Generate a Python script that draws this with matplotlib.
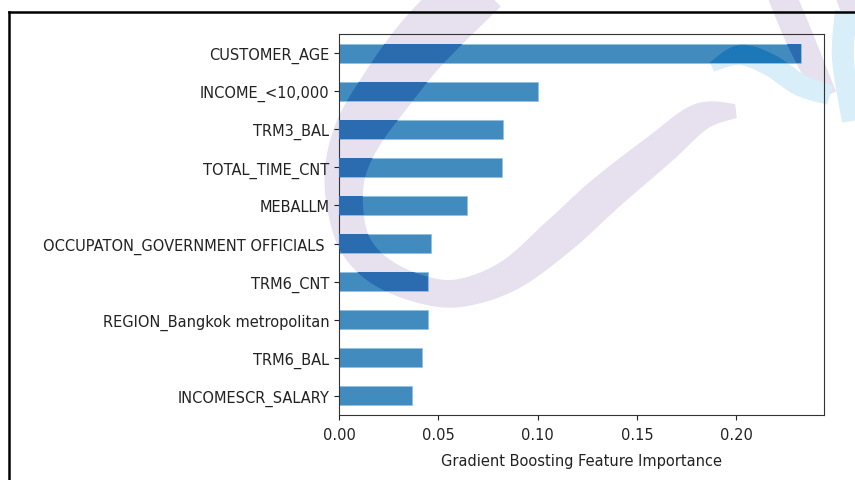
import numpy as np
import matplotlib.pyplot as plt
from matplotlib.lines import Line2D
from matplotlib.patches import Polygon

# importance des variables (gradient boosting), de la plus faible a la plus forte
features = [
    "INCOMESCR_SALARY",
    "TRM6_BAL",
    "REGION_Bangkok metropolitan",
    "TRM6_CNT",
    "OCCUPATON_GOVERNMENT OFFICIALS ",
    "MEBALLM",
    "TOTAL_TIME_CNT",
    "TRM3_BAL",
    "INCOME_<10,000",
    "CUSTOMER_AGE",
]
importances = [0.0368, 0.0418, 0.0448, 0.0449, 0.0463, 0.0645, 0.0820, 0.0826, 0.1000, 0.2325]
xticks = [0.00, 0.05, 0.10, 0.15, 0.20]

W, H = 855, 481
fig = plt.figure(figsize=(W / 100, H / 100), dpi=100)
fig.patch.set_facecolor("white")


def px(x, y):
    # coordonnees pixel (origine en haut a gauche) -> fraction de figure
    return x / W, 1 - y / H


def lisse(valeurs, n=12):
    # courbe de Catmull-Rom passant par les points (x, y, epaisseur)
    p = np.array(valeurs, dtype=float)
    p = np.vstack([p[0], p, p[-1]])
    out = []
    for i in range(1, len(p) - 2):
        p0, p1, p2, p3 = p[i - 1], p[i], p[i + 1], p[i + 2]
        for t in np.linspace(0, 1, n, endpoint=False):
            out.append(0.5 * (2 * p1 + (p2 - p0) * t + (2 * p0 - 5 * p1 + 4 * p2 - p3) * t ** 2
                              + (3 * p1 - p0 - 3 * p2 + p3) * t ** 3))
    out.append(p[-2])
    return np.array(out)


def ruban(valeurs):
    # contour d'un trait d'epaisseur variable, en fraction de figure
    c = lisse(valeurs)
    d = np.gradient(c[:, :2], axis=0)
    d /= np.hypot(d[:, 0], d[:, 1])[:, None]
    nrm = np.column_stack([-d[:, 1], d[:, 0]]) * (c[:, 2:3] / 2)
    bord = np.vstack([c[:, :2] + nrm, (c[:, :2] - nrm)[::-1]])
    return np.column_stack([bord[:, 0] / W, 1 - bord[:, 1] / H])


# filigrane (logo) : rubans en (x, y, epaisseur) pixels
lavande = "#e7e1ef"
bleu_clair = "#d8eef8"
filigrane = [
    ([(480, -14, 60), (440, 25, 60), (413, 55, 58), (385, 93, 55), (360, 131, 50),
      (346, 169, 42), (345, 207, 36), (355, 245, 32), (380, 272, 30), (420, 290, 28),
      (460, 294, 28), (510, 276, 32), (560, 236, 38), (605, 195, 38), (660, 150, 34),
      (700, 118, 28), (736, 112, 14)], lavande, "#2b6cb0"),
    ([(780, -8, 28), (800, 40, 28), (826, 97, 22)], lavande, "#2b6cb0"),
    ([(845, -8, 22), (860, 35, 22)], lavande, "#2b6cb0"),
    ([(712, 68, 10), (740, 56, 20), (770, 66, 22), (800, 86, 22), (830, 96, 20)],
     bleu_clair, "#1c78b8"),
    ([(846, 12, 22), (843, 60, 22), (852, 122, 20)], bleu_clair, "#1c78b8"),
]
for pts, couleur, _ in filigrane:
    fig.add_artist(Polygon(ruban(pts), closed=True, transform=fig.transFigure,
                           facecolor=couleur, edgecolor="none", zorder=-2))

# cadre noir autour de la figure
fig.add_artist(Line2D([8.5 / W, 8.5 / W], [0, 1 - 13 / H], transform=fig.transFigure,
                      color="black", lw=1.8))
fig.add_artist(Line2D([8.5 / W, 1], [1 - 13 / H, 1 - 13 / H], transform=fig.transFigure,
                      color="black", lw=1.8))

x0, y0 = px(339, 416)
x1, y1 = px(824, 35)
ax = fig.add_axes([x0, y0, x1 - x0, y1 - y0])
ax.set_facecolor("none")

pos = list(range(len(features)))
barres = ax.barh(pos, importances, height=0.5, color="#1f77b4", alpha=0.85,
                 edgecolor="#8fc0e0", linewidth=0.6)
ax.set_ylim(-0.5, len(features) - 0.5)

# le filigrane assombrit les barres la ou il passe
for pts, _, fonce in filigrane:
    for b in barres:
        p = Polygon(ruban(pts), closed=True, transform=fig.transFigure,
                    facecolor=fonce, edgecolor="none", zorder=3)
        ax.add_patch(p)
        p.set_clip_path(b)

ax.set_yticks(pos)
ax.set_yticklabels(features)
ax.set_xticks(xticks)
ax.set_xticklabels([f"{v:.2f}" for v in xticks])
ax.set_xlim(0, 0.2325 * 1.05)
ax.set_xlabel("Gradient Boosting Feature Importance", fontsize=10.5, color="#222222",
              labelpad=8)
ax.tick_params(labelsize=10.5, labelcolor="#222222", colors="#222222")
ax.tick_params(axis="x", pad=5)
for s in ax.spines.values():
    s.set_color("#333333")

fig.savefig("out.png", dpi=100)
